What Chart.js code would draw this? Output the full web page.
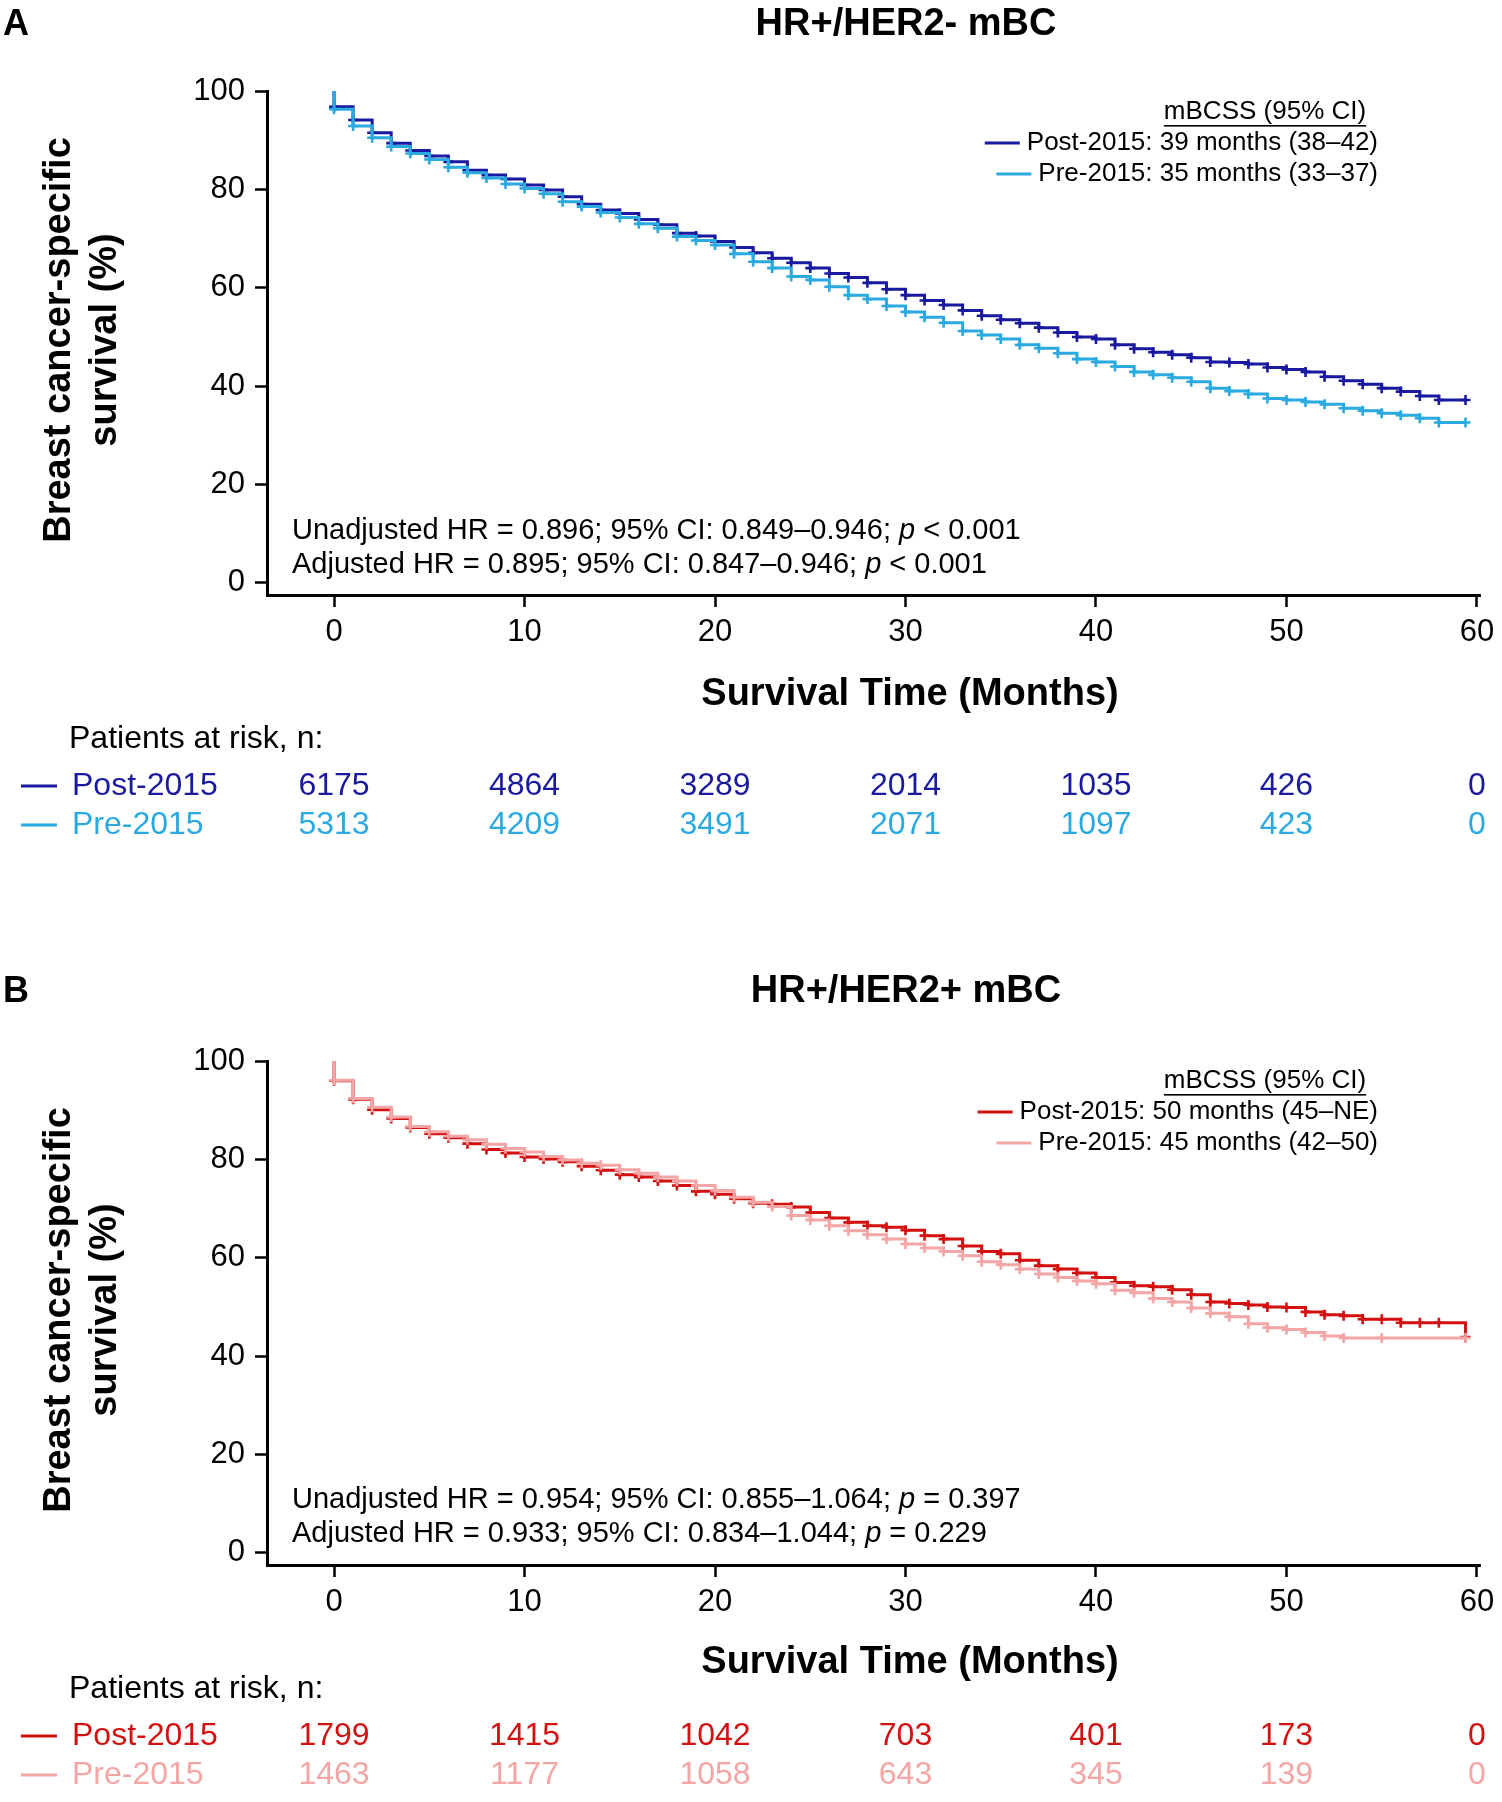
<!DOCTYPE html>
<html>
<head>
<meta charset="utf-8">
<script src="https://cdn.jsdelivr.net/npm/chart.js@4.4.0/dist/chart.umd.min.js"></script>
<style>
  body { margin: 0; background: #fff; }
  #wrap { position: relative; width: 1502px; height: 1802px; overflow: hidden; }
  canvas { position: absolute; left: 0; }
  #chartA { top: 0; }
  #chartB { top: 968px; }
</style>
</head>
<body>
<div id="wrap">
  <canvas id="chartA" width="1502" height="900"></canvas>
  <canvas id="chartB" width="1502" height="834"></canvas>
</div>
<script>
// ---------- data ----------
const xTicks = [0, 10, 20, 30, 40, 50, 60];
const yTicks = [0, 20, 40, 60, 80, 100];
const riskTimes = [0, 10, 20, 30, 40, 50, 60];

// step times (months); first point is the curve origin at 100%
const stepTimes = [0, 0, 1, 2, 3, 4, 5, 6, 7, 8, 9, 10, 11, 12, 13, 14, 15, 16, 17, 18, 19,
  20, 21, 22, 23, 24, 25, 26, 27, 28, 29, 30, 31, 32, 33, 34, 35, 36, 37, 38, 39,
  40, 41, 42, 43, 44, 45, 46, 47, 48, 49, 50, 51, 52, 53, 54, 55, 56, 57, 58, 59.4];
const bPreTimes = [0, 0, 1, 2, 3, 4, 5, 6, 7, 8, 9, 10, 11, 12, 13, 14, 15, 16, 17, 18, 19,
  20, 21, 22, 23, 24, 25, 26, 27, 28, 29, 30, 31, 32, 33, 34, 35, 36, 37, 38, 39,
  40, 41, 42, 43, 44, 45, 46, 47, 48, 49, 50, 51, 52, 53, 55, 59.4];

// Panel A: HR+/HER2- mBC
const aPost = [100, 96.8, 94.1, 91.5, 89.4, 87.9, 86.8, 85.6, 83.9, 82.9, 82.1, 80.9, 79.9, 78.5, 77.0,
  75.8, 75.1, 73.9, 72.8, 71.1, 70.5, 69.4, 68.2, 67.1, 66.0, 65.1, 64.0, 62.9, 62.1, 61.0, 59.7,
  58.5, 57.4, 56.5, 55.4, 54.3, 53.5, 52.8, 51.9, 50.9, 50.0, 49.6, 48.4, 47.6, 46.9, 46.4, 45.8,
  44.9, 44.8, 44.5, 43.8, 43.4, 42.9, 41.9, 41.1, 40.4, 39.6, 38.9, 38.0, 37.2, 37.2];
const aPre = [100, 96.3, 92.9, 90.5, 88.7, 87.3, 86.1, 84.5, 83.4, 82.3, 81.1, 80.2, 79.1, 77.5, 76.5,
  75.3, 74.3, 73.0, 72.1, 70.4, 69.6, 68.7, 66.9, 65.3, 64.0, 62.3, 61.6, 60.2, 58.5, 57.7, 56.3,
  55.1, 54.0, 52.9, 51.2, 50.4, 49.6, 48.4, 47.7, 46.7, 45.5, 44.9, 44.0, 42.9, 42.3, 41.7, 40.9,
  39.6, 39.0, 38.4, 37.5, 37.2, 36.8, 36.3, 35.5, 35.0, 34.5, 34.1, 33.5, 32.6, 32.6];
const aRiskPost = [6175, 4864, 3289, 2014, 1035, 426, 0];
const aRiskPre = [5313, 4209, 3491, 2071, 1097, 423, 0];

// Panel B: HR+/HER2+ mBC
const bPost = [100, 96.0, 92.2, 90.1, 88.3, 86.5, 85.2, 84.4, 83.2, 82.0, 81.3, 80.5, 80.1, 79.5, 78.6,
  77.8, 76.9, 76.4, 75.6, 74.7, 73.5, 72.9, 72.0, 71.1, 70.9, 70.3, 69.2, 68.1, 67.2, 66.5, 66.2,
  65.6, 64.5, 63.8, 62.4, 61.3, 60.8, 59.5, 58.4, 57.7, 56.9, 56.0, 55.0, 54.3, 54.1, 53.5, 52.5,
  51.0, 50.7, 50.4, 50.0, 49.9, 49.0, 48.4, 48.2, 47.5, 47.5, 46.8, 46.8, 46.8, 43.9];
const bPre = [100, 96.1, 92.4, 90.6, 88.6, 86.7, 85.6, 84.7, 84.0, 83.1, 82.2, 81.5, 80.6, 79.9, 79.2,
  78.8, 77.9, 77.2, 76.4, 75.6, 74.7, 73.7, 72.3, 71.3, 70.4, 68.6, 67.7, 66.5, 65.5, 64.7, 63.8,
  62.8, 62.0, 61.3, 60.4, 59.2, 58.6, 57.7, 56.7, 56.0, 55.3, 54.7, 53.4, 52.9, 51.7, 51.0, 49.8,
  48.7, 48.0, 46.6, 45.8, 45.4, 44.8, 44.1, 43.7, 43.7, 43.7];
const bRiskPost = [1799, 1415, 1042, 703, 401, 173, 0];
const bRiskPre = [1463, 1177, 1058, 643, 345, 139, 0];

// ---------- styling ----------
const FONT = '"Liberation Sans", Arial, Helvetica, sans-serif';

function kmDataset(label, times, vals, color, order) {
  return {
    label: label,
    order: order,
    data: times.map((t, i) => ({ x: t, y: vals[i] })),
    borderColor: color,
    backgroundColor: color,
    borderWidth: 3,
    stepped: 'before',
    fill: false,
    pointStyle: 'cross',
    pointRadius: ctx => (ctx.dataIndex === 0 ? 0 : 5),
    pointHoverRadius: 0,
    pointBorderColor: color,
    pointBorderWidth: 2.6
  };
}

function drawRich(ctx, parts, x, y, size) {
  let cx = x;
  parts.forEach((p, i) => {
    ctx.font = (i === 1 ? 'italic ' : '') + size + 'px ' + FONT;
    ctx.fillText(p, cx, y);
    cx += ctx.measureText(p).width;
  });
}

// draws titles, legend, HR text and the at-risk table
const panelText = {
  id: 'panelText',
  afterDraw(chart, args, p) {
    const ctx = chart.ctx;
    const xs = chart.scales.x;
    ctx.save();
    ctx.fillStyle = '#000';
    ctx.textBaseline = 'middle';

    ctx.font = 'bold 36px ' + FONT;
    ctx.textAlign = 'left';
    ctx.fillText(p.letter, 3, p.titleY);
    ctx.font = 'bold 38px ' + FONT;
    ctx.textAlign = 'center';
    ctx.fillText(p.title, 906, p.titleY);

    // y axis title
    ctx.save();
    ctx.translate(0, p.yTitleY);
    ctx.rotate(-Math.PI / 2);
    ctx.font = 'bold 38px ' + FONT;
    ctx.fillText('Breast cancer-specific', 0, 60);
    ctx.fillText('survival (%)', 0, 106);
    ctx.restore();

    // x axis title
    ctx.font = 'bold 38px ' + FONT;
    ctx.fillText('Survival Time (Months)', 910, p.xTitleY);

    // legend
    ctx.font = '26px ' + FONT;
    ctx.fillText('mBCSS (95% CI)', 1265, p.legendY);
    const hw = ctx.measureText('mBCSS (95% CI)').width;
    ctx.fillRect(1265 - hw / 2, p.legendY + 13, hw, 1.6);
    ctx.textAlign = 'right';
    p.legend.forEach((l, i) => {
      const y = p.legendY + 31 + i * 31;
      ctx.fillStyle = '#000';
      ctx.fillText(l.text, 1378, y);
      const w = ctx.measureText(l.text).width;
      ctx.strokeStyle = l.color;
      ctx.lineWidth = 3;
      ctx.beginPath();
      ctx.moveTo(1378 - w - 42, y);
      ctx.lineTo(1378 - w - 7, y);
      ctx.stroke();
    });

    // hazard ratio text
    ctx.textAlign = 'left';
    ctx.fillStyle = '#000';
    drawRich(ctx, p.hr[0], 292, p.hrY, 29);
    drawRich(ctx, p.hr[1], 292, p.hrY + 34, 29);

    // at-risk table
    ctx.font = '32px ' + FONT;
    ctx.fillText('Patients at risk, n:', 69, p.riskY[0]);
    p.risk.forEach((r, i) => {
      const y = p.riskY[i + 1];
      ctx.strokeStyle = r.color;
      ctx.lineWidth = 3;
      ctx.beginPath();
      ctx.moveTo(21, y);
      ctx.lineTo(57, y);
      ctx.stroke();
      ctx.fillStyle = r.color;
      ctx.textAlign = 'left';
      ctx.fillText(r.label, 72, y);
      ctx.textAlign = 'center';
      riskTimes.forEach((t, j) => {
        ctx.fillText(String(r.values[j]), xs.getPixelForValue(t), y);
      });
    });
    ctx.restore();
  }
};

function makeChart(id, height, top, datasets, text) {
  const bottom = top + 504;
  return new Chart(document.getElementById(id), {
    type: 'line',
    data: { datasets: datasets },
    plugins: [panelText],
    options: {
      responsive: false,
      animation: false,
      layout: { padding: { left: 0, right: 22, top: top, bottom: height - bottom - 60 } },
      scales: {
        x: {
          type: 'linear', min: -3.52, max: 60.16,
          afterBuildTicks: s => { s.ticks = xTicks.map(v => ({ value: v })); },
          afterFit: s => { s.height = 60; },
          grid: { display: true, drawOnChartArea: false, drawTicks: true, tickLength: 12, tickWidth: 2.5, tickColor: '#000' },
          border: { display: true, color: '#000', width: 3 },
          ticks: { color: '#000', font: { family: FONT, size: 31 }, padding: 7, maxRotation: 0, autoSkip: false }
        },
        y: {
          type: 'linear', min: -2.45, max: 100,
          afterBuildTicks: s => { s.ticks = yTicks.map(v => ({ value: v })); },
          afterFit: s => { s.width = 267; },
          grid: { display: true, drawOnChartArea: false, drawTicks: true, tickLength: 12, tickWidth: 2.5, tickColor: '#000' },
          border: { display: true, color: '#000', width: 3 },
          ticks: { color: '#000', font: { family: FONT, size: 31 }, padding: 10 }
        }
      },
      plugins: {
        legend: { display: false },
        tooltip: { enabled: false },
        panelText: text
      }
    }
  });
}

const blueDark = '#1a1aa0', blueLight = '#2aaae0';
const redDark = '#d41111', redLight = '#f4a5a5';

makeChart('chartA', 900, 91, [
  kmDataset('Post-2015', stepTimes, aPost, blueDark, 2),
  kmDataset('Pre-2015', stepTimes, aPre, blueLight, 1)
], {
  letter: 'A', title: 'HR+/HER2- mBC', titleY: 25, yTitleY: 340, xTitleY: 695,
  legendY: 112,
  legend: [
    { text: 'Post-2015: 39 months (38\u201342)', color: blueDark },
    { text: 'Pre-2015: 35 months (33\u201337)', color: blueLight }
  ],
  hr: [
    ['Unadjusted HR = 0.896; 95% CI: 0.849\u20130.946; ', 'p', ' < 0.001'],
    ['Adjusted HR = 0.895; 95% CI: 0.847\u20130.946; ', 'p', ' < 0.001']
  ],
  hrY: 531,
  riskY: [739, 786, 825],
  risk: [
    { label: 'Post-2015', values: aRiskPost, color: blueDark },
    { label: 'Pre-2015', values: aRiskPre, color: blueLight }
  ]
});

makeChart('chartB', 834, 93, [
  kmDataset('Post-2015', stepTimes, bPost, redDark, 2),
  kmDataset('Pre-2015', bPreTimes, bPre, redLight, 1)
], {
  letter: 'B', title: 'HR+/HER2+ mBC', titleY: 24, yTitleY: 342, xTitleY: 695,
  legendY: 113,
  legend: [
    { text: 'Post-2015: 50 months (45\u2013NE)', color: redDark },
    { text: 'Pre-2015: 45 months (42\u201350)', color: redLight }
  ],
  hr: [
    ['Unadjusted HR = 0.954; 95% CI: 0.855\u20131.064; ', 'p', ' = 0.397'],
    ['Adjusted HR = 0.933; 95% CI: 0.834\u20131.044; ', 'p', ' = 0.229']
  ],
  hrY: 532,
  riskY: [721, 768, 807],
  risk: [
    { label: 'Post-2015', values: bRiskPost, color: redDark },
    { label: 'Pre-2015', values: bRiskPre, color: redLight }
  ]
});
</script>
</body>
</html>
